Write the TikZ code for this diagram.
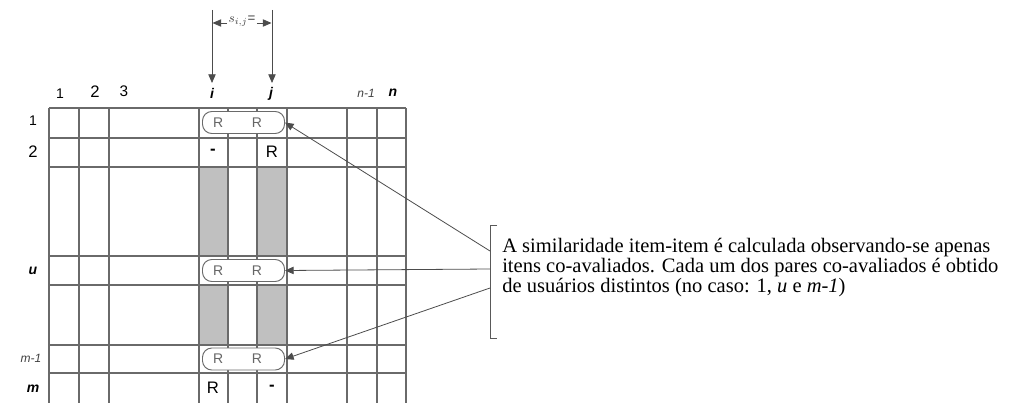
\documentclass[tikz,border=0pt]{standalone}
\usepackage{fontspec}
\setmainfont{Liberation Serif}
\setsansfont{Liberation Sans}
\usetikzlibrary{arrows.meta}
\definecolor{gridc}{HTML}{6A6A6A}
\definecolor{cellshade}{HTML}{C0C0C0}
\definecolor{rgray}{HTML}{666666}
\tikzset{
  gridline/.style={draw=gridc, line width=0.9pt},
  lab/.style={font=\sffamily\fontsize{11.5}{12}\selectfont, inner sep=0pt},
  labbi/.style={font=\sffamily\bfseries\itshape\fontsize{10.5}{12}\selectfont, inner sep=0pt},
  labit/.style={font=\sffamily\itshape\fontsize{9}{10}\selectfont, inner sep=0pt, text=black!75},
  cellt/.style={font=\sffamily\fontsize{12.5}{13}\selectfont, inner sep=0pt},
  pairbox/.style={draw=gridc, line width=0.7pt, fill=white, rounded corners=7pt,
     minimum width=61.5pt, minimum height=16.5pt, inner sep=0pt},
  rt/.style={font=\sffamily\fontsize{10.5}{11}\selectfont, text=rgray, inner sep=0pt},
  arr/.style={draw=black!70, line width=0.6pt, -{Triangle[length=6.5pt,width=5.5pt]}},
  plain/.style={draw=black!65, line width=0.6pt},
}
\begin{document}
\begin{tikzpicture}[x=0.75pt,y=-0.75pt]
\useasboundingbox (0,0) rectangle (1019,403);
% shaded cells
\fill[cellshade] (199,167) rectangle (228,256);
\fill[cellshade] (257,167) rectangle (287,256);
\fill[cellshade] (199,285) rectangle (228,345);
\fill[cellshade] (257,285) rectangle (287,345);
% grid
\foreach \x in {49,79,109,199,228,257,287,347,377,406}
  \draw[gridline] (\x,108) -- (\x,403);
\foreach \y in {108,138,167,256,285,345,373}
  \draw[gridline] (49,\y) -- (406,\y);
\draw[draw=gridc, line width=1.4pt] (199,108) -- (228,108);
% column labels
\node[lab, font=\sffamily\fontsize{10.5}{11}\selectfont] (c1) at (60,94) {1};
\node[lab, font=\sffamily\fontsize{12.5}{13}\selectfont] (c2) at (95,92) {2};
\node[lab] (c3) at (124,91) {3};
\node[labbi] (ci) at (212,93) {i};
\node[labbi] (cj) at (271,94) {j};
\node[labit] (cn1) at (366,93) {n-1};
\node[labbi] (cn) at (393,93) {n};
% row labels
\node[lab, font=\sffamily\fontsize{10.5}{11}\selectfont] (r1) at (33,121) {1};
\node[lab, font=\sffamily\fontsize{12.5}{13}\selectfont] (r2) at (33,152) {2};
\node[labbi] (ru) at (33,271) {u};
\node[labit] (rm1) at (31,358) {m-1};
\node[labbi] (rm) at (33,389) {m};
% cell texts
\node[cellt] (t2i) at (213,152) {\textbf{-}};
\node[cellt] (t2j) at (272,152) {R};
\node[cellt] (tmi) at (213,388) {R};
\node[cellt] (tmj) at (272,388) {\textbf{-}};
% pair boxes
\node[pairbox] (b1) at (243.5,122.5) {};
\node[pairbox] (bu) at (243.5,270.5) {};
\node[pairbox] (bm) at (243.5,359) {};
\foreach \b in {b1,bu,bm}{
  \node[rt] at ([xshift=-19pt]\b.center) {R};
  \node[rt] at ([xshift=10pt]\b.center) {R};
}
% top dimension
\coordinate (ti0) at (212,10);
\coordinate (ti1) at (212,83);
\coordinate (tj0) at (272,10);
\coordinate (tj1) at (272,83);
\draw[arr] (ti0) -- (ti1);
\draw[arr] (tj0) -- (tj1);
\node[font=\sffamily\fontsize{10}{11}\selectfont, text=black!75, inner sep=1pt] (sij) at (242,21) {$s_{i,j}$=};
\coordinate (dl) at (212.5,23);
\coordinate (dr) at (271.5,23);
\draw[arr] (sij.west |- dl) -- (dl);
\draw[arr] (sij.east |- dr) -- (dr);
% callout bracket
\coordinate (bt) at (490,225);
\coordinate (bb) at (490,338);
\draw[plain] (497,225) -- (bt) -- (bb) -- (497,338);
\coordinate (k1) at (490,251);
\coordinate (k2) at (490,269);
\coordinate (k3) at (490,288);
\draw[arr] (k1) -- (b1.east);
\draw[arr] (k2) -- (bu.east);
\draw[arr] (k3) -- (bm.east);
\node[anchor=west, align=left, inner sep=0pt, font=\fontsize{15.4}{15}\selectfont] (txt) at (502,268)
{A similaridade item-item é calculada observando-se apenas\\
itens co-avaliados. Cada um dos pares co-avaliados é obtido\\
de usuários distintos (no caso: 1, \textit{u} e \textit{m-1})};
\end{tikzpicture}
\end{document}
